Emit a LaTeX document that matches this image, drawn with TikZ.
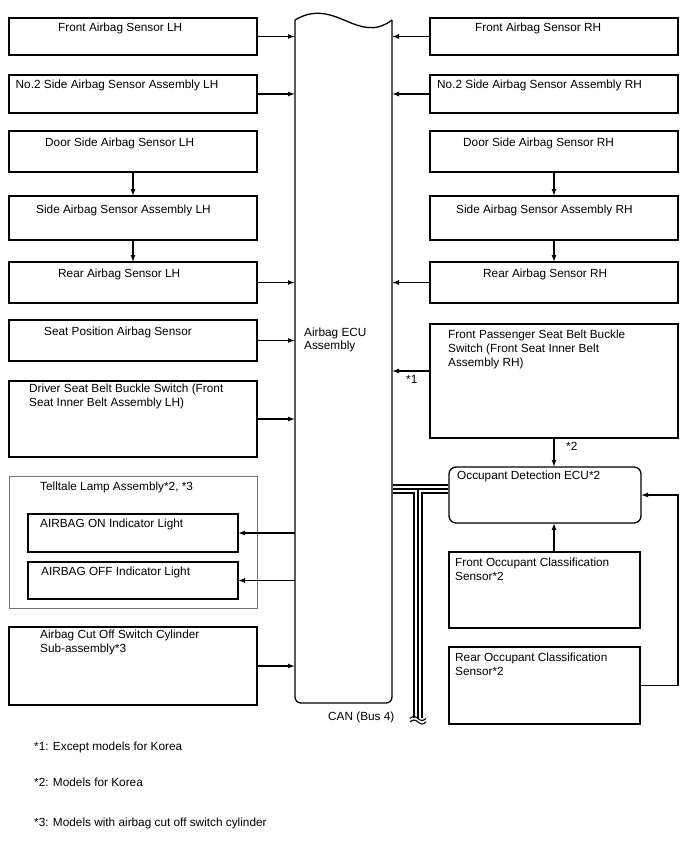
\documentclass[tikz,border=0pt]{standalone}
\usepackage{fontspec}
\setmainfont{Liberation Sans}
\usetikzlibrary{arrows.meta}
\newcommand\bx[6][]{\node[box,#1, minimum width={#4-#2}, minimum height={#6-#5}] (#3) at (#2,#5) {};}
\begin{document}
\begin{tikzpicture}[x=1pt,y=-1pt,
  font=\fontsize{11.8}{14}\selectfont,
  box/.style={draw, line width=1.3pt, anchor=north west, inner sep=0pt, outer sep=0pt},
  lbl/.style={anchor=base west, inner sep=0pt},
  arr/.style={line width=1.3pt, -{Latex[length=7pt,width=5pt]}},
  ln/.style={line width=1.3pt},
  busA/.style={line width=10pt, black},
  busB/.style={line width=6pt, white},
  busC/.style={line width=2.4pt, black}]
\useasboundingbox[fill=white] (0,0) rectangle (688,852);

% ECU
\node[minimum width=97, minimum height=683, anchor=north west, inner sep=0pt, outer sep=0pt] (ecu) at (295,20) {};
\draw[ln, rounded corners=6] (ecu.north west) -- (ecu.south west) -- (ecu.south east) -- (ecu.north east);
\draw[ln] (ecu.north west) .. controls (335,-4) and (358,46) .. (ecu.north east);
\node[lbl] (ecut) at (304,336) {\vtop{\baselineskip=13pt\hbox{Airbag ECU}\hbox{Assembly}}};

% left boxes
\bx{9}{B1}{257}{18}{55}
\bx{9}{B2}{257}{75}{113}
\bx{9}{B3}{257}{131}{172}
\bx{9}{B4}{257}{196}{240}
\bx{9}{B5}{257}{262}{303}
\bx{9}{B6}{257}{320}{361}
\bx{9}{B7}{257}{381}{457}
\bx[draw=black!55, line width=0.9pt]{9}{TT}{257}{476}{608}
\bx{28}{ON}{238}{514}{552}
\bx{28}{OFF}{238}{562}{599}
\bx{9}{CUT}{257}{627}{705}

\node[lbl] (B1t) at (58,31.5) {Front Airbag Sensor LH};
\node[lbl] (B2t) at (15.5,88) {No.2 Side Airbag Sensor Assembly LH};
\node[lbl] (B3t) at (45,146) {Door Side Airbag Sensor LH};
\node[lbl] (B4t) at (36,213) {Side Airbag Sensor Assembly LH};
\node[lbl] (B5t) at (58,277) {Rear Airbag Sensor LH};
\node[lbl] (B6t) at (44,335) {Seat Position Airbag Sensor};
\node[lbl] (B7t) at (29,392.5) {\vtop{\baselineskip=14pt\hbox{Driver Seat Belt Buckle Switch (Front}\hbox{Seat Inner Belt Assembly LH)}}};
\node[lbl] (TTt) at (40,490.5) {Telltale Lamp Assembly*2, *3};
\node[lbl] (ONt) at (40,527) {AIRBAG ON Indicator Light};
\node[lbl] (OFFt) at (41,575) {AIRBAG OFF Indicator Light};
\node[lbl] (CUTt) at (40,638.5) {\vtop{\baselineskip=13.5pt\hbox{Airbag Cut Off Switch Cylinder}\hbox{Sub-assembly*3}}};

% right boxes
\bx{430}{R1}{678}{18}{55}
\bx{430}{R2}{678}{75}{113}
\bx{430}{R3}{678}{131}{172}
\bx{430}{R4}{678}{196}{240}
\bx{430}{R5}{678}{262}{303}
\bx{430}{R6}{678}{324}{438}
\bx[rounded corners=7]{449}{OCC}{641}{467}{523}
\bx{449}{FOC}{640}{552}{628}
\bx{449}{ROC}{640}{647}{724}

\node[lbl] (R1t) at (475,31.5) {Front Airbag Sensor RH};
\node[lbl] (R2t) at (437,88) {No.2 Side Airbag Sensor Assembly RH};
\node[lbl] (R3t) at (463,146) {Door Side Airbag Sensor RH};
\node[lbl] (R4t) at (456,213) {Side Airbag Sensor Assembly RH};
\node[lbl] (R5t) at (483,277) {Rear Airbag Sensor RH};
\node[lbl] (R6t) at (448,338) {\vtop{\baselineskip=14pt\hbox{Front Passenger Seat Belt Buckle}\hbox{Switch (Front Seat Inner Belt}\hbox{Assembly RH)}}};
\node[lbl] (OCCt) at (457,479) {Occupant Detection ECU*2};
\node[lbl] (FOCt) at (455,566.7) {\vtop{\baselineskip=13.5pt\hbox{Front Occupant Classification}\hbox{Sensor*2}}};
\node[lbl] (ROCt) at (455,661.7) {\vtop{\baselineskip=13.5pt\hbox{Rear Occupant Classification}\hbox{Sensor*2}}};

% left arrows
\draw[arr] (B1.east) -- (B1.east -| ecu.west);
\draw[arr] (B2.east) -- (B2.east -| ecu.west);
\draw[arr] (B3.south) -- (B4.north);
\draw[arr] (B4.south) -- (B5.north);
\draw[arr] (B5.east) -- (B5.east -| ecu.west);
\draw[arr] (B6.east) -- (B6.east -| ecu.west);
\draw[arr] (B7.east) -- (B7.east -| ecu.west);
\draw[arr] (ON.east -| ecu.west) -- (ON.east);
\draw[arr] (OFF.east -| ecu.west) -- (OFF.east);
\draw[arr] (CUT.east) -- (CUT.east -| ecu.west);

% right arrows
\draw[arr] (R1.west) -- (R1.west -| ecu.east);
\draw[arr] (R2.west) -- (R2.west -| ecu.east);
\draw[arr] (R3.south) -- (R4.north);
\draw[arr] (R4.south) -- (R5.north);
\draw[arr] (R5.west) -- (R5.west -| ecu.east);
\coordinate (r6a) at (430,371);
\draw[arr] (r6a) -- (r6a -| ecu.east);
\node[lbl] (n1) at (406,383) {*1};
\draw[arr] (R6.south) -- (R6.south |- OCC.north);
\node[lbl] (n2) at (566,450) {*2};
\draw[arr] (FOC.north -| R6.south) -- (R6.south |- OCC.south);
\draw[arr] (ROC.east) -- ++(38,0) |- (OCC.east);

% CAN bus
\coordinate (busT) at (418,489);
\coordinate (busE) at (418,718);
\foreach \s in {busA,busB,busC}{
  \draw[\s] ([xshift=0.7pt]ecu.east |- busT) -- ([xshift=-0.7pt]busT -| OCC.west);
  \draw[\s] (busT) -- (busE);
}
\draw[line width=1.1pt] (410,718.5) sin (414,716.5) cos (418,718.5) sin (422,720.5) cos (426,718.5);
\draw[line width=1.1pt] (410,722) sin (414,720) cos (418,722) sin (422,724) cos (426,722);
\node[lbl] (cant) at (328,720) {CAN (Bus 4)};

% footnotes
\node[lbl] (f1) at (34,750.7) {*1: Except models for Korea};
\node[lbl] (f2) at (34,786) {*2: Models for Korea};
\node[lbl] (f3) at (34,826) {*3: Models with airbag cut off switch cylinder};
\end{tikzpicture}
\end{document}
